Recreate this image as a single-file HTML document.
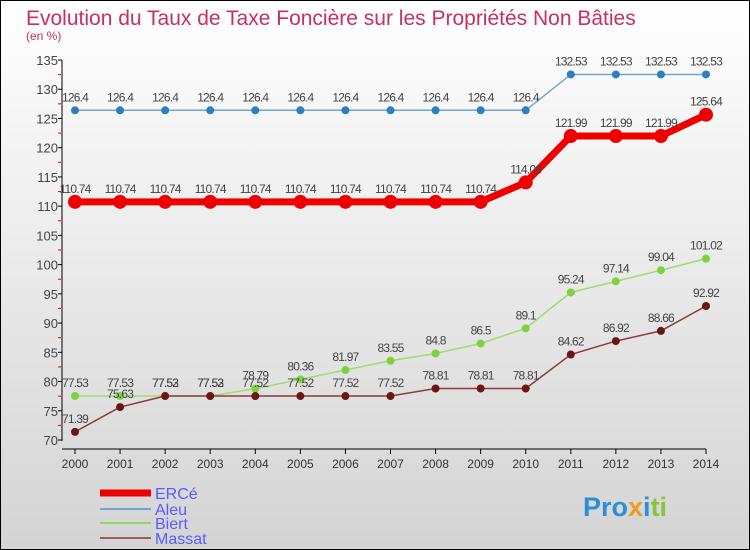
<!DOCTYPE html>
<html><head><meta charset="utf-8"><style>
body{margin:0}
#c{position:relative;width:750px;height:550px;box-sizing:border-box;border:1px solid #000;background:linear-gradient(#fff,#d4d4d4);font-family:"Liberation Sans",sans-serif;overflow:hidden}
</style></head><body>
<div id="c">
<svg id="s" width="750" height="550" style="position:absolute;left:-1px;top:-1px">
<text x="26" y="25" font-size="21" fill="#c8305f">Evolution du Taux de Taxe Foncière sur les Propriétés Non Bâties</text>
<text x="26" y="40" font-size="12" fill="#c8305f">(en %)</text>
<g id="axes"></g><g id="series"></g>
<g>
<line x1="100" y1="493" x2="151" y2="493" stroke="#e00" stroke-width="7"/>
<text x="155" y="499" font-size="16" fill="#5a5aff">ERCé</text>
<line x1="100" y1="509" x2="151" y2="509" stroke="#6fa6cf" stroke-width="2"/>
<text x="155" y="515" font-size="16" fill="#5a5aff">Aleu</text>
<line x1="100" y1="523" x2="151" y2="523" stroke="#8fd85f" stroke-width="2"/>
<text x="155" y="529" font-size="16" fill="#5a5aff">Biert</text>
<line x1="100" y1="538" x2="151" y2="538" stroke="#9b5a5a" stroke-width="2"/>
<text x="155" y="544" font-size="16" fill="#5a5aff">Massat</text>
</g>
<text x="583" y="516" font-size="27" font-weight="bold"><tspan fill="#2b8fd8">Pro</tspan><tspan fill="#f39a1a">x</tspan><tspan fill="#2b8fd8">i</tspan><tspan fill="#8ac43f">ti</tspan></text>
</svg>
</div>
<script>
const years=[2000,2001,2002,2003,2004,2005,2006,2007,2008,2009,2010,2011,2012,2013,2014];
const yTicks=[70,75,80,85,90,95,100,105,110,115,120,125,130,135];
const erce=[110.74,110.74,110.74,110.74,110.74,110.74,110.74,110.74,110.74,110.74,114.06,121.99,121.99,121.99,125.64];
const aleu=[126.4,126.4,126.4,126.4,126.4,126.4,126.4,126.4,126.4,126.4,126.4,132.53,132.53,132.53,132.53];
const biert=[77.53,77.53,77.53,77.53,78.79,80.36,81.97,83.55,84.8,86.5,89.1,95.24,97.14,99.04,101.02];
const massat=[71.39,75.63,77.52,77.52,77.52,77.52,77.52,77.52,78.81,78.81,78.81,84.62,86.92,88.66,92.92];
const NS="http://www.w3.org/2000/svg";
const X=i=>75+i*(706-75)/14;
const Y=v=>440-(v-70)*380/65;
function mk(t,a,p){const e=document.createElementNS(NS,t);for(const k in a)e.setAttribute(k,a[k]);p.appendChild(e);return e;}
const ax=document.getElementById('axes'),sg=document.getElementById('series');
mk('line',{x1:62,y1:60,x2:62,y2:441,stroke:'#000'},ax);
mk('line',{x1:62,y1:449,x2:706,y2:449,stroke:'#000'},ax);
yTicks.forEach(v=>{const y=Y(v);
mk('line',{x1:58,y1:y,x2:62,y2:y,stroke:'#000'},ax);
if(v<135)mk('line',{x1:58,y1:Y(v+2.5),x2:61,y2:Y(v+2.5),stroke:'#e00'},ax);
const t=mk('text',{x:58,y:y+5,'font-size':13,fill:'#444','text-anchor':'end'},ax);t.textContent=v;
});
years.forEach((yr,i)=>{mk('line',{x1:X(i),y1:449,x2:X(i),y2:454,stroke:'#000'},ax);
const t=mk('text',{x:X(i),y:468,'font-size':12,fill:'#333','text-anchor':'middle'},ax);t.textContent=yr;
});
function series(d,name,col,dot,w,r){
const g=mk('g',{},sg);
mk('polyline',{points:d.map((v,i)=>X(i)+','+Y(v)).join(' '),fill:'none',stroke:col,'stroke-width':w},g);
d.forEach((v,i)=>{const c=mk('circle',{cx:X(i),cy:Y(v),r:r,fill:dot},g);

const t=mk('text',{x:X(i),y:Y(v)-9,'font-size':12,fill:'#444','text-anchor':'middle','letter-spacing':'-0.8'},g);t.textContent=v;
});}
series(aleu,'aleu','#6fa6cf','#2e7fc0',1.5,4);
series(erce,'erce','#ee0000','#ee0000',7,7);
series(biert,'biert','#9edc6f','#7ed23f',1.5,4);
series(massat,'massat','#8a3a3a','#6b1515',1.5,4);
</script>
</body></html>
